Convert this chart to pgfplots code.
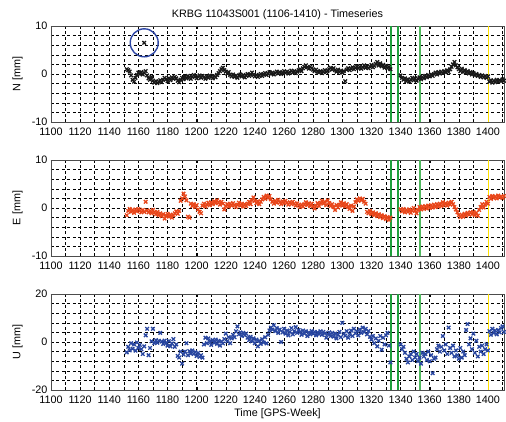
\documentclass[border=0pt]{standalone}
\usepackage{pgfplots}
\pgfplotsset{compat=1.18}
\usepackage{pgfplotstable}
\usepackage{fontspec}
\setmainfont{Liberation Sans}

\definecolor{nblack}{RGB}{25,25,25}
\definecolor{eorange}{RGB}{232,70,26}
\definecolor{ublue}{RGB}{40,70,160}
\definecolor{circblue}{RGB}{45,70,165}
\definecolor{evgreen}{RGB}{30,160,60}
\definecolor{evgreenl}{RGB}{80,185,95}
\definecolor{evyellow}{RGB}{255,225,0}

% weekly solutions, mm
\pgfplotstableread{
week n e u
1152 1.0 -1.5 -4.3
1153 0.8 -0.6 -2.0
1154 0.5 -0.2 -3.5
1155 -0.3 -0.8 -0.5
1156 -1.2 -0.4 -2.8
1157 -1.6 -1.0 -1.0
1158 -0.8 -0.3 -3.6
1159 -0.2 -0.7 -0.2
1160 0.3 -0.2 -2.5
1161 0.0 -0.6 -1.2
1162 0.4 -0.9 -3.0
1163 -0.1 -0.4 -5.0
1164 0.2 -0.8 -1.8
1165 0.6 1.3 2.8
1166 -0.3 -0.5 5.5
1167 -0.9 -0.9 -5.5
1168 -1.2 -0.6 -2.5
1169 -0.6 -1.1 0.3
1170 -1.4 -0.4 5.5
1171 -1.8 -0.9 -0.5
1172 -1.5 -1.3 0.8
1173 -1.9 -0.8 -0.3
1174 -1.6 -1.5 0.5
1175 -1.3 -1.1 3.8
1176 -1.7 -1.7 0.2
1177 -1.2 -1.3 -0.8
1178 -0.8 -2.2 0.6
1179 -1.1 -1.6 -0.4
1180 -1.5 -1.2 -1.5
1181 -0.9 -1.8 0.4
1182 -1.3 -1.4 -1.8
1183 -0.7 -2.0 -0.6
1184 -1.0 -1.5 1.2
1185 -0.6 -1.1 -2.0
1186 -0.9 -0.7 -1.0
1187 -1.4 -1.2 -5.8
1188 -1.7 -0.6 -6.5
1189 -1.2 1.5 -4.0
1190 -0.8 2.0 -9.0
1191 -1.1 3.0 -5.2
1192 -0.5 2.4 -4.0
1193 -0.9 1.6 -0.5
1194 -0.4 -1.8 -5.5
1195 -0.7 -2.0 -3.8
1196 -1.0 0.9 -4.8
1197 -0.6 0.4 -3.5
1198 -0.2 0.8 -5.0
1199 -0.5 0.2 -4.2
1200 -0.9 0.6 -5.8
1201 -0.6 -0.3 -4.5
1202 -0.3 -0.8 -6.2
1203 -0.8 -1.1 -5.5
1204 -0.4 0.5 -6.5
1205 -0.7 0.9 -1.0
1206 -1.0 0.3 1.8
1207 -0.5 0.7 -0.5
1208 -0.8 1.1 1.5
1209 -0.3 0.6 0.2
1210 -0.6 1.2 -1.2
1211 -0.9 0.8 0.8
1212 -0.4 1.4 -0.3
1213 -0.7 1.0 1.0
1214 -0.2 1.6 -0.8
1215 0.2 1.2 0.5
1216 0.6 0.7 -1.5
1217 1.0 1.3 0.2
1218 1.3 0.9 -0.6
1219 0.8 -0.3 1.2
1220 0.5 0.4 3.5
1221 0.1 0.8 0.3
1222 0.4 0.3 2.0
1223 -0.2 0.9 -0.5
1224 -0.5 0.5 1.5
1225 -0.1 1.0 3.0
1226 -0.6 0.6 2.0
1227 -0.3 0.2 4.5
1228 -0.8 0.7 6.5
1229 -0.4 1.1 3.2
1230 -0.1 0.5 4.0
1231 -0.5 0.9 2.5
1232 -0.2 0.3 3.8
1233 -0.7 0.8 2.8
1234 -0.3 0.4 3.5
1235 0.0 0.9 1.8
1236 -0.4 1.3 0.8
1237 -0.1 0.8 2.2
1238 0.3 1.6 0.3
1239 -0.2 2.2 1.5
1240 -0.5 1.5 -0.5
1241 -0.2 1.0 1.0
1242 -0.6 1.4 -1.8
1243 -0.3 0.8 0.5
1244 0.0 1.3 -0.8
1245 -0.4 1.8 1.2
1246 -0.1 2.3 -0.2
1247 0.2 1.9 2.0
1248 -0.2 2.6 -0.6
1249 0.1 2.1 3.0
1250 0.4 2.5 4.8
1251 0.0 1.8 6.0
1252 0.3 1.3 5.2
1253 -0.1 0.9 7.0
1254 0.2 1.5 4.5
1255 0.5 1.1 5.8
1256 0.1 1.7 3.8
1257 0.4 1.2 5.2
1258 0.0 0.8 0.0
1259 0.3 1.4 4.0
1260 0.6 1.0 5.5
1261 0.2 1.5 3.5
1262 0.5 1.1 4.8
1263 0.1 0.7 2.8
1264 0.4 1.2 4.2
1265 0.7 0.8 5.8
1266 0.3 1.3 3.2
1267 0.6 0.9 4.5
1268 0.2 0.5 6.2
1269 0.5 1.0 3.8
1270 0.8 0.6 5.0
1271 1.0 0.2 4.2
1272 0.6 0.7 3.0
1273 1.2 0.3 4.8
1274 1.5 0.8 3.5
1275 1.8 1.2 4.5
1276 1.4 0.6 2.5
1277 1.1 1.0 4.0
1278 1.5 0.4 3.2
1279 1.2 0.9 4.6
1280 0.9 0.3 3.5
1281 0.6 -0.1 4.2
1282 0.9 0.5 2.8
1283 0.5 1.0 4.0
1284 0.3 0.4 3.3
1285 0.6 1.1 4.5
1286 0.2 1.5 3.0
1287 0.5 0.9 4.2
1288 0.8 1.3 3.6
1289 0.4 0.6 1.8
1290 0.7 1.6 3.2
1291 1.0 1.0 4.0
1292 1.3 0.4 2.5
1293 0.9 0.8 3.8
1294 1.2 0.2 2.2
1295 0.8 -0.4 3.5
1296 0.5 0.6 1.5
1297 0.9 0.1 3.0
1298 0.4 0.7 4.2
1299 0.7 1.2 2.0
1300 0.3 0.5 8.0
1301 0.6 1.0 3.4
1302 -1.5 0.3 2.6
1303 0.9 0.8 4.5
1304 1.2 0.2 1.8
1305 0.8 -0.2 3.2
1306 1.1 0.5 4.8
1307 1.4 -0.6 2.5
1308 1.0 0.3 5.5
1309 1.3 1.2 3.6
1310 1.6 1.8 4.5
1311 1.2 1.5 2.8
1312 1.5 2.0 5.2
1313 1.1 1.6 3.8
1314 1.4 1.9 6.0
1315 1.8 1.3 4.2
1316 1.3 0.9 5.5
1317 1.6 -0.8 3.2
1318 1.2 -1.1 4.6
1319 1.5 -0.6 2.2
1320 1.9 -1.3 1.0
1321 1.4 -0.9 2.5
1322 1.7 -1.5 -0.5
1323 2.1 -1.1 1.5
1324 2.5 -1.7 -1.8
1325 1.8 -1.3 0.5
1326 2.2 -1.9 2.5
1327 1.6 -1.5 -3.2
1328 1.9 -2.1 1.8
1329 1.3 -1.7 -1.0
1330 1.7 -2.3 2.8
1331 1.2 -1.9 3.8
1332 1.5 -2.5 -1.5
1333 1.0 -2.0 -8.5
1340 -0.3 -0.3 -1.0
1341 -0.8 -0.7 -3.0
1342 -1.2 -0.2 -2.0
1343 -0.9 -0.9 -4.5
1344 -1.5 -0.4 -7.0
1345 -1.1 -0.8 -8.5
1346 -1.6 -0.3 -6.0
1347 -1.2 -1.0 -5.0
1348 -0.8 -0.5 -7.5
1349 -1.3 0.0 -4.0
1350 -0.9 -0.6 -6.5
1351 -1.4 -1.1 -5.0
1352 -1.0 -0.4 -8.0
1353 -0.7 0.2 -6.5
1354 -1.1 -0.3 -9.0
1355 -0.6 0.3 -4.5
1356 -0.9 -0.2 -6.0
1357 -0.4 0.4 -5.0
1358 -0.7 -0.1 -7.5
1359 -0.2 0.5 -4.0
1360 -0.5 0.0 -8.0
1361 -0.1 0.6 -5.5
1362 -0.4 0.1 -13.0
1363 0.0 0.7 -7.0
1364 0.3 0.2 -6.5
1365 -0.1 0.8 -3.0
1366 0.4 0.3 -1.5
1367 0.1 0.9 -4.0
1368 0.5 0.4 -2.0
1369 0.2 1.2 2.5
1370 0.6 0.6 -3.5
1371 0.3 1.0 -1.0
1372 0.8 0.5 -5.0
1373 0.4 1.1 6.0
1374 1.0 0.7 -2.5
1375 1.5 1.3 -4.5
1376 2.0 0.8 -1.5
1377 2.5 0.2 -6.0
1378 1.8 -0.3 -3.5
1379 1.4 -0.9 -5.5
1380 1.0 -1.5 -7.0
1381 0.6 -1.9 -2.5
1382 1.1 -1.4 -6.5
1383 0.4 -1.8 -4.0
1384 0.8 -1.2 -5.5
1385 0.3 -1.6 5.0
1386 0.6 -1.0 7.5
1387 0.1 -1.4 -1.0
1388 0.4 -0.9 1.5
1389 -0.1 -1.3 -3.0
1390 0.2 -0.8 3.5
1391 -0.3 -1.5 -4.5
1392 0.0 -1.0 0.5
1393 -0.4 -1.6 -6.0
1394 -0.2 -0.4 -2.0
1395 -0.6 0.2 -4.0
1396 -0.3 0.8 -1.5
1397 -0.7 0.1 -5.0
1398 -0.4 0.7 -3.0
1399 -0.8 1.3 -1.0
1400 -0.5 0.9 -3.5
1401 -1.6 2.3 4.5
1402 -1.3 1.9 3.0
1403 -1.8 2.5 5.5
1404 -1.4 2.1 3.8
1405 -1.7 2.4 4.8
1406 -1.2 2.0 3.2
1407 -1.6 2.6 5.0
1408 -1.3 2.2 4.0
1409 -1.5 2.4 5.8
1410 -1.1 2.1 6.5
1411 -1.4 2.5 4.2
}\krbg

\pgfplotsset{
  tsaxis/.style={
    scale only axis, width=453pt, height=96pt,
    anchor=north west,
    xmin=1100, xmax=1411,
    xtick={1100,1120,...,1400},
    minor xtick={1110,1130,...,1410},
    grid=both,
    major grid style={black, line width=0.5pt, dash pattern=on 3pt off 2.5pt},
    minor grid style={black, line width=0.5pt, dash pattern=on 3pt off 2.5pt},
    tick align=inside, major tick length=3pt, minor tick length=0pt,
    tick style={black},
    axis line style={black!70, line width=0.9pt},
    ticklabel style={font=\fontsize{10.8}{12}\selectfont},
    label style={font=\fontsize{10.8}{12}\selectfont},
    /pgf/number format/assume math mode=true,
    /pgf/number format/set thousands separator={},
    ylabel style={at={(axis description cs:-0.055,0.5)}, anchor=south},
    xticklabel style={yshift=-2.5pt},
    yticklabel style={yshift=0.5pt},
  },
  pts/.style={only marks, mark=x, mark size=2.5pt, line width=1.3pt},
  evline/.style={line width=1.6pt, forget plot},
}

\begin{document}
\begin{tikzpicture}
\useasboundingbox (0pt,0pt) rectangle (506pt,-421pt);

\begin{axis}[tsaxis, at={(51pt,-26pt)},
  ymin=-10, ymax=10, ytick={-10,0,10}, minor ytick={-8,-6,...,8},
  ylabel={N [mm]},
  title={KRBG 11043S001 (1106-1410) - Timeseries},
  title style={font=\fontsize{10.8}{12}\selectfont, yshift=-3pt}]
\addplot[pts, color=nblack] table[x=week, y=n] {\krbg};
\addplot[pts, color=nblack] coordinates {(1164,6.5)};
\addplot[evline, evgreen] coordinates {(1333.3,-10) (1333.3,10)};
\addplot[evline, evgreen] coordinates {(1338.2,-10) (1338.2,10)};
\addplot[evline, evgreenl] coordinates {(1353.3,-10) (1353.3,10)};
\addplot[evline, evyellow] coordinates {(1400.3,-10) (1400.3,10)};
\addplot[only marks, mark=o, mark size=14pt, line width=1.4pt, color=circblue] coordinates {(1164,6.5)};
\end{axis}

\begin{axis}[tsaxis, at={(51pt,-160pt)},
  ymin=-10, ymax=10, ytick={-10,0,10}, minor ytick={-8,-6,...,8},
  ylabel={E [mm]}]
\addplot[pts, color=eorange] table[x=week, y=e] {\krbg};
\addplot[evline, evgreen] coordinates {(1333.3,-10) (1333.3,10)};
\addplot[evline, evgreen] coordinates {(1338.2,-10) (1338.2,10)};
\addplot[evline, evgreenl] coordinates {(1353.3,-10) (1353.3,10)};
\addplot[evline, evyellow] coordinates {(1400.3,-10) (1400.3,10)};
\end{axis}

\begin{axis}[tsaxis, at={(51pt,-294pt)},
  ymin=-20, ymax=20, ytick={-20,0,20}, minor ytick={-16,-12,...,16},
  ylabel={U [mm]}, xlabel={Time [GPS-Week]},
  xlabel style={yshift=1.5pt}]
\addplot[pts, color=ublue] table[x=week, y=u] {\krbg};
\addplot[evline, evgreen] coordinates {(1333.3,-20) (1333.3,20)};
\addplot[evline, evgreen] coordinates {(1338.2,-20) (1338.2,20)};
\addplot[evline, evgreenl] coordinates {(1353.3,-20) (1353.3,20)};
\addplot[evline, evyellow] coordinates {(1400.3,-20) (1400.3,20)};
\end{axis}
\end{tikzpicture}
\end{document}
